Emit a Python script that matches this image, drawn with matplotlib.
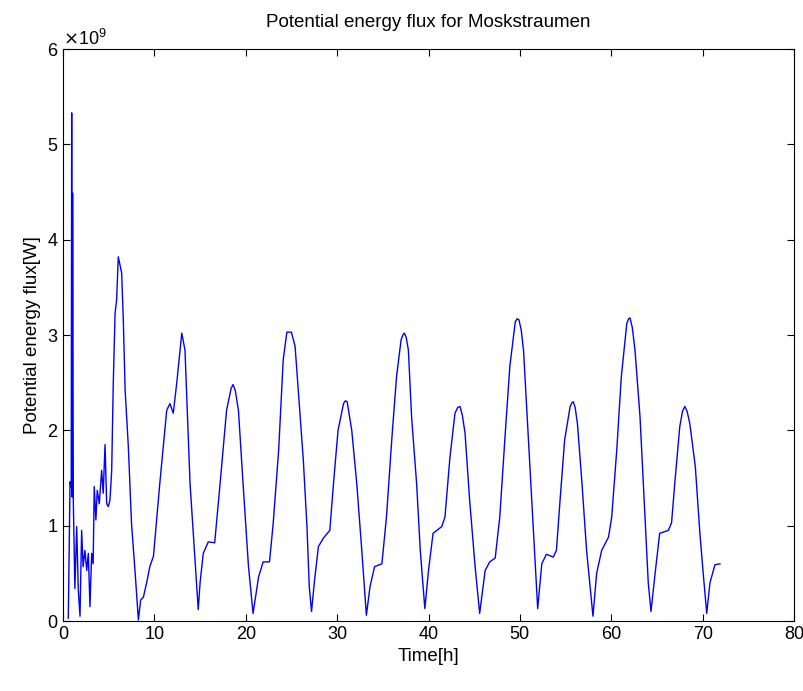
import matplotlib
matplotlib.use("Agg")
import matplotlib.pyplot as plt
from matplotlib.ticker import ScalarFormatter
import numpy as np

plt.rcParams["font.family"] = ["Liberation Sans", "DejaVu Sans"]

# time in hours, flux in units of 1e9 W
time_h = [
    0.58, 0.77, 0.90, 0.95, 1.00, 1.05, 1.13, 1.30, 1.50, 1.67, 1.86, 2.04,
    2.20, 2.40, 2.60, 2.77, 2.95, 3.14, 3.30, 3.42, 3.60, 3.75, 3.97, 4.23,
    4.40, 4.60, 4.78, 4.96, 5.14, 5.33, 5.50, 5.70, 5.87, 6.05, 6.24, 6.42,
    6.60, 6.80, 7.15, 7.50, 7.90, 8.25, 8.50, 8.80, 9.15, 9.50, 9.90, 10.6,
    11.35, 11.7, 12.07, 12.44, 13.0, 13.35, 13.9, 14.26, 14.8, 15.0, 15.35,
    15.9, 16.6, 17.2, 17.9, 18.4, 18.6, 18.85, 19.2, 19.7, 20.3, 20.8, 21.4,
    21.9, 22.6, 23.0, 23.6, 24.1, 24.5, 25.0, 25.4, 25.75, 26.3, 26.7, 26.95,
    27.2, 27.5, 27.95, 28.5, 29.2, 29.6, 30.1, 30.7, 30.9, 31.1, 31.6, 32.15,
    32.7, 33.2, 33.6, 34.1, 34.9, 35.4, 36.0, 36.5, 37.0, 37.2, 37.35, 37.55,
    37.8, 38.15, 38.7, 39.1, 39.6, 40.0, 40.5, 41.45, 41.8, 42.35, 42.9, 43.2,
    43.45, 43.7, 44.0, 44.5, 45.1, 45.6, 46.2, 46.7, 47.3, 47.8, 48.4, 48.9,
    49.5, 49.7, 49.9, 50.15, 50.4, 50.9, 51.5, 51.95, 52.4, 52.9, 53.65, 54.0,
    54.4, 54.9, 55.5, 55.7, 55.85, 56.05, 56.3, 56.8, 57.3, 58.0, 58.4, 58.95,
    59.7, 60.05, 60.6, 61.1, 61.7, 61.9, 62.05, 62.3, 62.6, 63.15, 63.7, 64.05,
    64.35, 64.8, 65.3, 66.25, 66.6, 66.95, 67.5, 67.8, 68.05, 68.3, 68.6, 69.2,
    69.7, 70.1, 70.45, 70.8, 71.35, 71.9,
]
flux_e9 = [
    0.03, 1.46, 1.40, 5.33, 1.30, 4.49, 1.25, 0.34, 0.99, 0.33, 0.05, 0.95,
    0.57, 0.74, 0.53, 0.71, 0.15, 0.71, 0.60, 1.41, 1.06, 1.37, 1.23, 1.58,
    1.34, 1.85, 1.23, 1.20, 1.27, 1.58, 2.49, 3.23, 3.37, 3.82, 3.73, 3.65,
    3.16, 2.42, 1.83, 1.02, 0.50, 0.01, 0.22, 0.25, 0.40, 0.57, 0.68, 1.45,
    2.21, 2.28, 2.18, 2.49, 3.02, 2.84, 1.45, 0.92, 0.12, 0.40, 0.71,
    0.83, 0.82, 1.45, 2.21, 2.44, 2.48, 2.42, 2.21, 1.45, 0.57, 0.08, 0.46,
    0.62, 0.62, 1.02, 1.79, 2.74, 3.03, 3.03, 2.88, 2.42, 1.69, 0.99, 0.36,
    0.10, 0.40, 0.78, 0.87, 0.95, 1.44, 2.00, 2.28, 2.31, 2.30, 2.00, 1.44,
    0.74, 0.06, 0.36, 0.57, 0.60, 1.09, 1.93, 2.56, 2.95, 3.00, 3.02, 2.98,
    2.84, 2.14, 1.44, 0.74, 0.13, 0.53, 0.92, 0.99, 1.09, 1.72, 2.18, 2.24,
    2.25, 2.16, 1.97, 1.27, 0.57, 0.08, 0.53, 0.62, 0.66, 1.09, 1.97, 2.67,
    3.14, 3.17, 3.16, 3.05, 2.84, 1.97, 0.92, 0.13, 0.60, 0.70, 0.67, 0.74,
    1.27, 1.90, 2.25, 2.29, 2.30, 2.24, 2.07, 1.44, 0.74, 0.05, 0.50, 0.74,
    0.88, 1.09, 1.79, 2.56, 3.12, 3.17, 3.18, 3.08, 2.84, 2.14, 1.09, 0.40,
    0.10, 0.50, 0.92, 0.95, 1.03, 1.44, 2.04, 2.20, 2.25, 2.20, 2.07, 1.62,
    0.92, 0.46, 0.08, 0.40, 0.59, 0.60,
]

fig = plt.figure(figsize=(8.04, 6.91), dpi=100)
ax = fig.add_axes([63 / 804, 70 / 691, 731 / 804, 572 / 691])

ax.plot(time_h, np.array(flux_e9) * 1e9, color="#0000ff", linewidth=1.0)

ax.set_xlim(0, 80)
ax.set_ylim(0, 6e9)
ax.set_xticks(np.arange(0, 81, 10))
ax.set_yticks(np.arange(0, 7, 1) * 1e9)

fmt = ScalarFormatter(useMathText=True)
fmt.set_powerlimits((0, 0))
ax.yaxis.set_major_formatter(fmt)
ax.yaxis.get_offset_text().set_fontsize(13)

ax.tick_params(direction="in", top=True, right=True, length=5, width=0.8, labelsize=13)
for s in ax.spines.values():
    s.set_linewidth(0.8)

ax.set_xlabel("Time[h]", fontsize=13.5)
ax.set_ylabel("Potential energy flux[W]", fontsize=13.5)
ax.set_title("Potential energy flux for Moskstraumen", fontsize=13.5, pad=16)

fig.savefig("out.png", dpi=100)
